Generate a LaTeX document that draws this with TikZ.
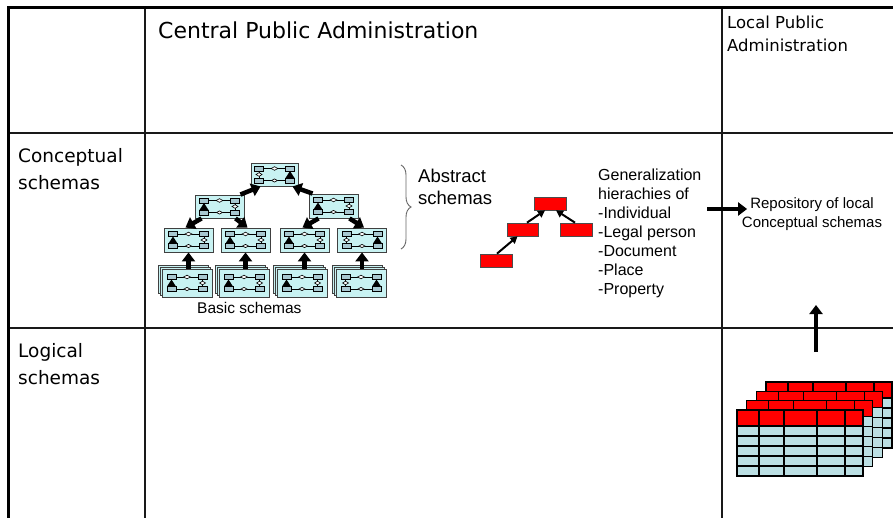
\documentclass[tikz,border=0pt]{standalone}
\usepackage{fontspec}
\setmainfont{Liberation Sans}
\newfontfamily\handfont{DejaVu Sans}
\usetikzlibrary{arrows.meta,decorations.pathreplacing}

\definecolor{iconcyan}{HTML}{C8F2F2}
\definecolor{minigrey}{HTML}{A8C8D0}
\definecolor{tablefill}{HTML}{BBDFE3}

\tikzset{
  gridthick/.style={line width=3pt, black},
  gridthin/.style={line width=1.8pt, black!90},
  iconbox/.style={draw=black!75, fill=iconcyan, line width=0.9pt,
    minimum width=48pt, minimum height=24pt, inner sep=0pt},
  stackbox/.style={iconbox, minimum width=50pt, minimum height=28pt},
  minirect/.style={draw=black, fill=minigrey, line width=0.6pt},
  miniline/.style={draw=black, line width=0.6pt},
  treearrow/.style={line width=4.5pt, -{Triangle[length=9pt,width=13pt]}},
  thinarrow/.style={line width=2pt, -{Triangle[length=7pt,width=7.5pt]}},
  fatarrow/.style={line width=3.8pt, -{Triangle[length=9pt,width=13pt]}},
  redbox/.style={draw=black!70, fill=red, line width=0.7pt,
    minimum width=32pt, minimum height=13pt, inner sep=0pt},
  headtext/.style={font=\handfont\fontsize{22}{26}\selectfont, inner sep=0pt},
  smallhead/.style={font=\handfont\fontsize{16.5}{22}\selectfont, inner sep=0pt},
  rowtext/.style={font=\handfont\fontsize{18.5}{27}\selectfont, inner sep=0pt},
  bodytext/.style={font=\fontsize{16}{19}\selectfont, inner sep=0pt},
  % miniature class diagram drawn inside a schema box; #1 = -1 puts the
  % triangle on the left, #1 = 1 puts it on the right
  pics/schemaicon/.style={code={
    \draw[miniline] (-11,-6) -- (11,-6);
    \draw[miniline] (-11,6) -- (11,6);
    \draw[miniline, fill=white] (-3.5,-6) -- (0,-7.8) -- (3.5,-6) -- (0,-4.2) -- cycle;
    \draw[miniline, fill=white] (-3,6) -- (0,7.6) -- (3,6) -- (0,4.4) -- cycle;
    \draw[minirect] (-20,-8.5) rectangle (-11,-3.5);
    \draw[minirect] (11,-8.5) rectangle (20,-3.5);
    \draw[minirect] (-20,3.5) rectangle (-11,8.5);
    \draw[minirect] (11,3.5) rectangle (20,8.5);
    \fill ({15.5*#1},-3.5) -- ({15.5*#1-4.5},3.5) -- ({15.5*#1+4.5},3.5) -- cycle;
    \draw[miniline] ({-15.5*#1},-3.5) -- ({-15.5*#1},3.5);
    \draw[miniline, fill=white] ({-15.5*#1-3},0) -- ({-15.5*#1},-1.8) -- ({-15.5*#1+3},0) -- ({-15.5*#1},1.8) -- cycle;
  }},
  % a relational table: red header row and five data rows
  pics/datatable/.style={code={
    \fill[tablefill] (0,16) rectangle (126,66);
    \fill[red] (0,0) rectangle (126,16);
    \foreach \yy in {16,26,36,46,56} \draw[line width=1.1pt] (0,\yy) -- (126,\yy);
    \foreach \xx in {22,47,80,108} \draw[line width=1.1pt] (\xx,0) -- (\xx,66);
    \draw[line width=1.1pt] (0,0) rectangle (126,66);
  }},
}

\begin{document}
\begin{tikzpicture}[x=1pt,y=-1pt]
\useasboundingbox (0,0) rectangle (893,518);
\fill[white] (0,0) rectangle (893,518);

% table frame
\draw[gridthin] (8,133) -- (893,133);
\draw[gridthin] (8,328) -- (893,328);
\draw[gridthin] (145,8) -- (145,518);
\draw[gridthin] (722,8) -- (722,518);
\draw[gridthick] (8,518) -- (8,8) -- (893,8);

% headings
\node[headtext, anchor=base west] (hcentral) at (158,39) {Central Public Administration};
\node[smallhead, anchor=base west] (hlocal1) at (727,29) {Local Public};
\node[smallhead, anchor=base west] (hlocal2) at (727,52) {Administration};
\node[rowtext, anchor=base west] (hconc1) at (18,163) {Conceptual};
\node[rowtext, anchor=base west] (hconc2) at (18,190) {schemas};
\node[rowtext, anchor=base west] (hlog1) at (18,357) {Logical};
\node[rowtext, anchor=base west] (hlog2) at (18,384) {schemas};

% abstract schema hierarchy
\node[iconbox, minimum width=47pt, minimum height=23pt] (top) at (274.5,174.5) {};
\node[iconbox, minimum width=49pt, minimum height=23pt] (l2l) at (219.5,206.5) {};
\node[iconbox, minimum width=49pt] (l2r) at (333.5,206) {};
\node[iconbox, minimum width=49pt] (b1) at (188.5,240) {};
\node[iconbox, minimum width=49pt] (b2) at (245.5,240) {};
\node[iconbox, minimum width=49pt] (b3) at (304.5,240) {};
\node[iconbox, minimum width=49pt] (b4) at (362,240) {};
\pic at (top) {schemaicon=1};
\pic at (l2l) {schemaicon=-1};
\pic at (l2r) {schemaicon=-1};
\pic at (b1) {schemaicon=-1};
\pic at (b2) {schemaicon=-1};
\pic at (b3) {schemaicon=-1};
\pic at (b4) {schemaicon=1};

% basic schemas, drawn as stacks of three sheets
\foreach \nm/\cx/\side in {s1/187/-1, s2/244/-1, s3/302/-1, s4/361/1} {
  \node[stackbox] at (\cx-4,279) {};
  \node[stackbox] at (\cx-2,281) {};
  \node[stackbox] (\nm) at (\cx,283) {};
  \pic at (\nm) {schemaicon=\side};
}
\node[bodytext, font=\fontsize{15.5}{18}\selectfont, anchor=base west] (basic) at (197,313) {Basic schemas};

% generalization links of the hierarchy
\draw[treearrow] ([xshift=-4pt]l2l.north east) -- ([xshift=10pt]top.south west);
\draw[treearrow] ([xshift=4pt]l2r.north west) -- ([xshift=-6pt]top.south east);
\draw[treearrow] ([xshift=7pt]l2l.south west) -- ([xshift=-3pt]b1.north);
\draw[treearrow] ([xshift=-9pt]l2l.south east) -- ([xshift=2pt]b2.north);
\draw[treearrow] ([xshift=10pt]l2r.south west) -- ([xshift=-2pt]b3.north);
\draw[treearrow] ([xshift=-9pt]l2r.south east) -- ([xshift=2pt]b4.north);
\foreach \s/\b in {s1/b1, s2/b2, s3/b3, s4/b4}
  \draw[treearrow] (\b.south |- \s.north) -- (\b.south);

% brace and its label
\draw[black!60, line width=0.9pt, decorate, decoration={brace, amplitude=10pt}]
  (401,165) -- (401,249) coordinate (bracefoot);
\node[bodytext, font=\fontsize{18.5}{22}\selectfont, anchor=base west] (abstract1) at (418,183) {Abstract};
\node[bodytext, font=\fontsize{18.5}{22}\selectfont, anchor=base west] (abstract2) at (418,205) {schemas};

% generalization hierarchy in red
\node[redbox] (rtop) at (550,203.5) {};
\node[redbox, minimum width=31pt] (rmid) at (522.5,229.5) {};
\node[redbox] (rright) at (576,229.5) {};
\node[redbox] (rbot) at (496,260.5) {};
\draw[thinarrow] ([xshift=1pt]rbot.north) -- ([xshift=-5pt]rmid.south);
\draw[thinarrow] ([xshift=4.5pt]rmid.north) -- ([xshift=-5pt]rtop.south);
\draw[thinarrow] ([xshift=-1pt]rright.north) -- ([xshift=6pt]rtop.south);
\node[bodytext, anchor=north west, align=left] (gen) at (598,168.5)
  {Generalization\\hierachies of\\-Individual\\-Legal person\\-Document\\-Place\\-Property};

% local repository
\node[bodytext, font=\fontsize{15}{18}\selectfont, anchor=base] (repo1) at (812,209) {Repository of local};
\node[bodytext, font=\fontsize{15}{18}\selectfont, anchor=base] (repo2) at (812,228) {Conceptual schemas};
\coordinate (repoin) at (707,209);
\draw[fatarrow] (repoin) -- ([xshift=-3pt]repo1.west |- repoin);
\coordinate (upfoot) at (816,352);
\coordinate (uptip) at (816,305);
\draw[fatarrow] (upfoot) -- (uptip);

% stack of logical tables
\pic at (766,382) {datatable};
\pic at (756.3,391.3) {datatable};
\pic at (746.7,400.7) {datatable};
\pic at (737,410) {datatable};
\end{tikzpicture}
\end{document}
